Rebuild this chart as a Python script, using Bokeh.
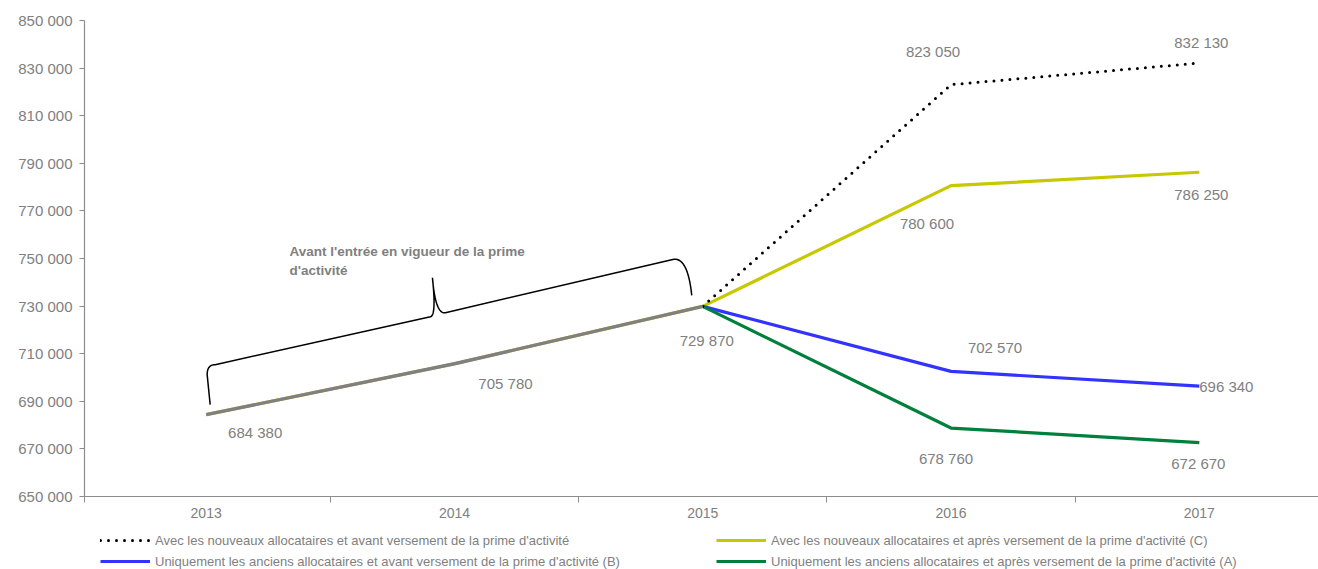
import numpy as np
from bokeh.plotting import figure
from bokeh.layouts import column
from bokeh.models import (ColumnDataSource, Range1d, FixedTicker, Legend, LegendItem)
from bokeh.core.properties import value
from bokeh.embed import file_html
from bokeh.resources import INLINE

# ---------------- data ----------------
years = [2013, 2014, 2015, 2016, 2017]
common_years = [2013, 2014, 2015]
common_values = [684380, 705780, 729870]
nouveaux_avant = [684380, 705780, 729870, 823050, 832130]   # dotted black
nouveaux_apres_C = [684380, 705780, 729870, 780600, 786250]  # yellow
anciens_avant_B = [684380, 705780, 729870, 702570, 696340]   # blue
anciens_apres_A = [684380, 705780, 729870, 678760, 672670]   # green
y_ticks = list(range(650000, 850001, 20000))
legend_labels = [
    "Avec les nouveaux allocataires et avant versement de la prime d'activité",
    "Avec les nouveaux allocataires et après versement de la prime d'activité (C)",
    "Uniquement les anciens allocataires et avant versement de la prime d'activité (B)",
    "Uniquement les anciens allocataires et après versement de la prime d'activité (A)",
]
annotation_lines = ["Avant l'entrée en vigueur de la prime", "d'activité"]

# ---------------- layout ----------------
W = 1318
H_MAIN, H_LEG = 530, 39
LEFT, TOP, FRAME_W, FRAME_H = 84, 20, 1234, 476
X0, X1 = 2012.51, 2017.48
Y0, Y1 = 650000, 850000

def fmt(v):
    return f"{v:,}".replace(",", " ")

def to_px(x, y):
    return (LEFT + (x - X0) / (X1 - X0) * FRAME_W,
            TOP + (Y1 - y) / (Y1 - Y0) * FRAME_H)

def to_data(px, py):
    return (X0 + (px - LEFT) / FRAME_W * (X1 - X0),
            Y1 - (py - TOP) / FRAME_H * (Y1 - Y0))

GREY_TXT = "#808080"
AXIS = "#8c8c8c"
FONT = "Liberation Sans"
STYLES = [
    dict(line_color="black", line_width=3, line_dash="0 8", line_cap="round"),
    dict(line_color="#c8c800", line_width=3.2),
    dict(line_color="#3333ff", line_width=3.2),
    dict(line_color="#00803c", line_width=3.2),
]

p = figure(width=W, height=H_MAIN, output_backend="svg", toolbar_location=None,
           x_range=Range1d(X0, X1), y_range=Range1d(Y0, Y1),
           min_border_left=LEFT, min_border_right=0, min_border_top=TOP,
           min_border_bottom=H_MAIN - TOP - FRAME_H)
p.outline_line_color = None
p.grid.visible = False
p.background_fill_color = "white"
p.border_fill_color = "white"

# axes
p.yaxis.ticker = FixedTicker(ticks=y_ticks)
p.yaxis.major_label_overrides = {t: fmt(t) for t in y_ticks}
p.yaxis.major_tick_out = 5
p.yaxis.major_tick_in = 0
p.yaxis.minor_tick_line_color = None
p.yaxis.major_label_standoff = 7
for ax in (p.xaxis, p.yaxis):
    ax.axis_line_color = AXIS
    ax.axis_line_width = 1.2
    ax.major_label_text_color = GREY_TXT
    ax.major_label_text_font = FONT
p.yaxis.major_label_text_font_size = "15px"
p.xaxis.major_label_text_font_size = "14px"
p.yaxis.major_tick_line_color = AXIS

p.xaxis.ticker = FixedTicker(ticks=years,
                             minor_ticks=[X0, 2013.5, 2014.5, 2015.5, 2016.5])
p.xaxis.major_label_overrides = {y: str(y) for y in years}
p.xaxis.major_tick_line_color = None
p.xaxis.minor_tick_line_color = AXIS
p.xaxis.minor_tick_out = 6
p.xaxis.minor_tick_in = 0
p.xaxis.major_tick_out = 6
p.xaxis.major_label_standoff = 5

# lines
p.line(years, nouveaux_apres_C, **STYLES[1])
p.line(years[2:], anciens_avant_B[2:], **STYLES[2])
p.line(years[2:], anciens_apres_A[2:], **STYLES[3])
p.line(years[2:], nouveaux_avant[2:], **STYLES[0])
p.line(common_years, common_values, line_color="#808080", line_width=3.4)

# data labels
label_x = years[:3] + [2016, 2017] * 4
label_y = common_values + nouveaux_avant[3:] + nouveaux_apres_C[3:] + anciens_avant_B[3:] + anciens_apres_A[3:]
label_dx = [49, 51, 4, -18, 2, -24, 2, 44, 27, -5, -1]
label_dy = [18, 20, 34, -33, -21, 38, 22, -24, 0, 30, 21]
src = ColumnDataSource(dict(x=label_x, y=label_y, t=[fmt(v) for v in label_y],
                            dx=label_dx, dy=label_dy))
p.text(x="x", y="y", text="t", source=src, x_offset="dx", y_offset="dy",
       text_align="center", text_baseline="middle", text_color=GREY_TXT,
       text_font=value(FONT), text_font_size="15px")

# brace annotation (offsets in px from the data points)
P13 = to_px(2013, common_values[0])
P14 = to_px(2014, common_values[1])
P15 = to_px(2015, common_values[2])

def off(P, dx, dy):
    return np.array([P[0] + dx, P[1] + dy])

def quad(a, c, b, n=20):
    t = np.linspace(0, 1, n)[:, None]
    return (1 - t) ** 2 * a + 2 * (1 - t) * t * c + t ** 2 * b

segs = [
    np.array([off(P13, 4, -10), off(P13, 1, -40)]),
    quad(off(P13, 1, -40), off(P13, 1, -50), off(P13, 9, -50)),
    np.array([off(P13, 9, -50), off(P14, -24, -47)]),
    quad(off(P14, -24, -47), off(P14, -18, -48), off(P14, -22, -86)),
    quad(off(P14, -22, -86), off(P14, -19, -49), off(P14, -9, -51)),
    np.array([off(P14, -9, -51), off(P15, -30, -47)]),
    quad(off(P15, -30, -47), off(P15, -15, -50), off(P15, -11, -11)),
]
path = np.vstack(segs)
bx, by = to_data(path[:, 0], path[:, 1])
p.line(bx, by, line_color="black", line_width=1.5)

ax_, ay1 = to_data(289, 251)
_, ay2 = to_data(289, 270)
p.text(x=[ax_, ax_], y=[ay1, ay2], text=annotation_lines,
       text_align="left", text_baseline="middle", text_color=GREY_TXT,
       text_font=value(FONT), text_font_style="bold", text_font_size="13.5px")

# ---------------- legend strip ----------------
pl = figure(width=W, height=H_LEG, output_backend="svg", toolbar_location=None,
            x_axis_location=None, y_axis_location=None,
            x_range=Range1d(0, 1), y_range=Range1d(0, 1),
            min_border_left=0, min_border_right=0, min_border_top=0, min_border_bottom=0)
pl.outline_line_color = None
pl.grid.visible = False
pl.border_fill_color = "white"
# legend-only renderers, placed outside the visible range
leg_r = [pl.line(x=[-5, -4], y=[-5, -5], **s) for s in STYLES]

order = [0, 2, 1, 3]   # column-major fill: col 1 = items 0,2 ; col 2 = items 1,3
legend = Legend(items=[LegendItem(label=legend_labels[i], renderers=[leg_r[i]]) for i in order],
                ncols=2, location=(16, 0))
legend.label_text_font = FONT
legend.label_text_font_size = "13px"
legend.label_text_color = GREY_TXT
legend.glyph_width = 50
legend.glyph_height = 16
legend.label_height = 16
legend.label_width = 556
legend.label_standoff = 5
legend.spacing = 5
legend.padding = 0
legend.margin = 0
legend.border_line_color = None
legend.background_fill_alpha = 0
pl.add_layout(legend)

layout = column(p, pl, spacing=0)
open("out.html", "w").write(file_html(layout, INLINE))
